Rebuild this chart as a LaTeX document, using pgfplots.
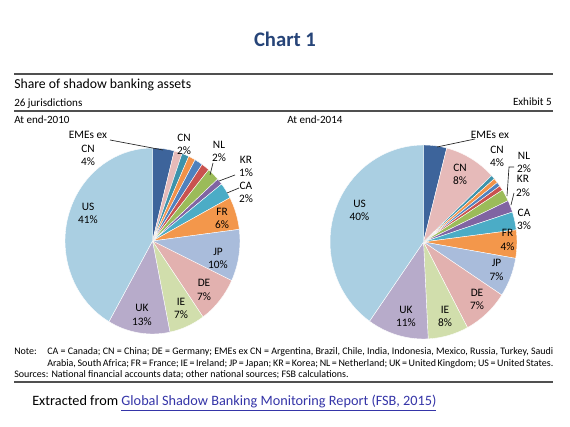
\documentclass[border=0pt]{standalone}
\usepackage{pgfplots}
\pgfplotsset{compat=1.18}
\usepackage{pgfplotstable}
\usepackage{fontspec}
\setmainfont{Carlito}

\definecolor{cEME}{HTML}{3D649B}
\definecolor{cCN}{HTML}{E6BAB9}
\definecolor{cTeal}{HTML}{3E93AB}
\definecolor{cOr}{HTML}{F2924A}
\definecolor{cBl}{HTML}{4F81BD}
\definecolor{cRed}{HTML}{C9524F}
\definecolor{cGr}{HTML}{9BBB59}
\definecolor{cPu}{HTML}{8064A2}
\definecolor{cCA}{HTML}{4BACC6}
\definecolor{cFR}{HTML}{F3974B}
\definecolor{cJP}{HTML}{A9BCDB}
\definecolor{cDE}{HTML}{E2B1AF}
\definecolor{cIE}{HTML}{D1DEAC}
\definecolor{cUK}{HTML}{B7ABCA}
\definecolor{cUS}{HTML}{AACFE2}
\definecolor{titleblue}{HTML}{264478}
\definecolor{linkblue}{HTML}{3535A8}
\definecolor{rulegray}{HTML}{505050}

% At end-2010, clockwise from 12 o'clock
\pgfplotstableread{
value col
4.0 cEME
1.5 cCN
1.3 cTeal
1.3 cOr
1.5 cBl
1.5 cRed
2.3 cGr
1.1 cPu
2.8 cCA
5.7 cFR
9.0 cJP
8.2 cDE
6.6 cIE
11.5 cUK
41.7 cUS
}\pieA

% At end-2014, clockwise from 12 o'clock
\pgfplotstableread{
value col
4.0 cEME
9.0 cCN
0.7 cTeal
0.8 cOr
0.7 cBl
0.8 cRed
2.0 cGr
2.0 cPu
3.0 cCA
4.7 cFR
6.5 cJP
8.0 cDE
7.0 cIE
10.6 cUK
40.2 cUS
}\pieB

\newcommand{\drawpie}[3]{%
  \gdef\curang{90}%
  \pgfplotstableforeachcolumnelement{value}\of#1\as\val{%
    \pgfplotstablegetelem{\pgfplotstablerow}{col}\of#1%
    \let\curcol\pgfplotsretval
    \pgfmathsetmacro\endang{\curang-3.6*\val}%
    \edef\tmp{\noexpand\fill[\curcol, draw=white, line width=0.3pt] (axis cs:0,0) -- ++(\curang:#2 and #3) arc[start angle=\curang, end angle=\endang, x radius=#2, y radius=#3] -- cycle;}%
    \tmp
    \xdef\curang{\endang}%
  }%
}

\begin{document}
\begin{tikzpicture}[x=0.75pt,y=0.75pt,
  lab/.style={font=\fontsize{8.5}{9.9}\selectfont, align=center, inner sep=0pt},
  lead/.style={draw=black!85, line width=0.5pt}]
\fill[white] (0,0) rectangle (570,427);
\path[use as bounding box] (0,0) rectangle (570,427);

% title
\node[font=\fontsize{15.5}{18}\selectfont\bfseries, text=titleblue] at (285,388) {Chart 1};

% header rules and texts
\draw[rulegray, line width=1.1pt] (14,353) -- (553,353);
\node[anchor=base west, inner sep=0pt, font=\fontsize{10.3}{12}\selectfont] at (14,338) {Share of shadow banking assets};
\node[anchor=base west, inner sep=0pt, font=\fontsize{8.3}{10}\selectfont] at (14,320) {26 jurisdictions};
\node[anchor=base east, inner sep=0pt, font=\fontsize{8.3}{10}\selectfont] at (552,321) {Exhibit 5};
\draw[rulegray, line width=0.8pt] (14,316) -- (553,316);
\node[anchor=base west, inner sep=0pt, font=\fontsize{8.3}{10}\selectfont] at (14,303) {At end-2010};
\node[anchor=base west, inner sep=0pt, font=\fontsize{8.3}{10}\selectfont] at (287,303) {At end-2014};

% left pie
\begin{axis}[at={(152.5,186)}, anchor=center, x=0.75pt, y=0.75pt,
  xmin=-100, xmax=100, ymin=-100, ymax=100, hide axis, clip=false]
\drawpie{\pieA}{65.6pt}{69.75pt}
\end{axis}

% right pie
\begin{axis}[at={(423.5,185)}, anchor=center, x=0.75pt, y=0.75pt,
  xmin=-100, xmax=100, ymin=-100, ymax=100, hide axis, clip=false]
\drawpie{\pieB}{70.1pt}{72.75pt}
\end{axis}

% left labels
\node[lab] at (88,278.5) {EMEs ex\\CN\\4\%};
\draw[lead] (110,287) -- (163,277);
\node[lab] at (184,283) {CN\\2\%};
\node[lab] at (219,275.5) {NL\\2\%};
\draw[lead] (213,264) -- (210,252);
\node[lab] at (246,260.5) {KR\\1\%};
\draw[lead] (235,252) -- (219,246);
\node[lab] at (246,234.5) {CA\\2\%};
\draw[lead] (239,239) -- (227,234);
\node[lab] at (222,208.5) {FR\\6\%};
\node[lab] at (218,168.5) {JP\\10\%};
\node[lab] at (204,137) {DE\\7\%};
\node[lab] at (181,118.5) {IE\\7\%};
\node[lab] at (142,112) {UK\\13\%};
\node[lab] at (88,213.5) {US\\41\%};

% right labels
\node[lab] at (490,292) {EMEs ex};
\node[lab] at (497,270.5) {CN\\4\%};
\draw[lead] (475,288) -- (437,280);
\node[lab] at (460,253) {CN\\8\%};
\node[lab] at (524,264.5) {NL\\2\%};
\draw[lead] (514,260) -- (509,260) -- (507,231);
\node[lab] at (523,241) {KR\\2\%};
\draw[lead] (514,234) -- (511,222);
\node[lab] at (524,208) {CA\\3\%};
\node[lab] at (507.5,187) {FR\\4\%};
\node[lab] at (496.5,157) {JP\\7\%};
\node[lab] at (477,127.5) {DE\\7\%};
\node[lab] at (445,110.5) {IE\\8\%};
\node[lab] at (406,110.5) {UK\\11\%};
\node[lab] at (359.5,217) {US\\40\%};

% notes
\begin{scope}[every node/.style={inner sep=0pt, font=\fontsize{7.5}{8.5}\selectfont}]
\node[anchor=base west] at (14,72) {Note:};
\node[anchor=base west] at (47,72) {\makebox[379.5pt][s]{CA = Canada; CN = China; DE = Germany; EMEs ex CN = Argentina, Brazil, Chile, India, Indonesia, Mexico, Russia, Turkey, Saudi}};
\node[anchor=base west] at (47,60) {\makebox[379.5pt][s]{Arabia, South Africa; FR = France; IE = Ireland; JP = Japan; KR = Korea; NL = Netherland; UK = United Kingdom; US = United States.}};
\node[anchor=base west] at (14,49) {Sources: National financial accounts data; other national sources; FSB calculations.};
\end{scope}
\draw[rulegray, line width=0.8pt] (14,45) -- (553,45);

% source line
\node[anchor=base west, inner sep=0pt, font=\fontsize{10.7}{12}\selectfont] at (32,21) {Extracted from \textcolor{linkblue}{\underline{Global Shadow Banking Monitoring Report (FSB, 2015)}}};
\end{tikzpicture}
\end{document}
